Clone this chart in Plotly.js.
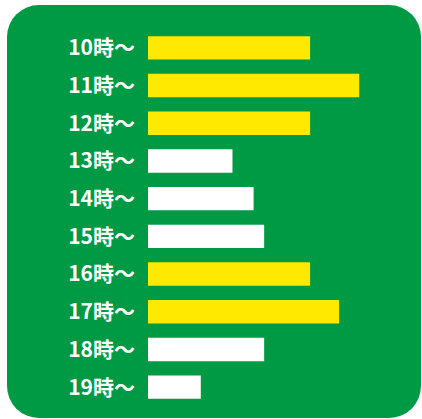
<!DOCTYPE html>
<html><head><meta charset="utf-8">
<script src="https://cdn.plot.ly/plotly-3.0.1.min.js"></script>
<style>
html,body{margin:0;padding:0;background:#fff;}
#bg{position:absolute;left:7px;top:5px;width:414px;height:413px;background:#009944;border-radius:32px;}
#chart{position:absolute;left:0;top:0;width:422px;height:419px;}
</style></head>
<body>
<div id="bg"></div>
<div id="chart"></div>
<script>
const categories = ["10時～","11時～","12時～","13時～","14時～","15時～","16時～","17時～","18時～","19時～"];
const values = [3.07, 4.0, 3.07, 1.6, 2.0, 2.2, 3.07, 3.62, 2.2, 1.0];
const highlight = [true, true, true, false, false, false, true, true, false, false];
const colors = highlight.map(h => h ? "#FFE900" : "#FFFFFF");

Plotly.newPlot("chart", [{
  type: "bar",
  orientation: "h",
  y: categories,
  x: values,
  marker: {color: colors, line: {width: 0}},
  hoverinfo: "none"
}], {
  width: 422, height: 419,
  margin: {l: 148, r: 10, t: 29, b: 13},
  paper_bgcolor: "rgba(0,0,0,0)",
  plot_bgcolor: "rgba(0,0,0,0)",
  bargap: 0.38,
  showlegend: false,
  xaxis: {range: [0, 5], visible: false, fixedrange: true},
  yaxis: {
    autorange: "reversed", showgrid: false, zeroline: false, showline: false,
    ticks: "", ticklabelstandoff: 12,
    tickfont: {family: "Noto Sans CJK JP", size: 21, color: "#FFFFFF", weight: 600}
  }
}, {displayModeBar: false, staticPlot: true});
</script>
</body></html>
